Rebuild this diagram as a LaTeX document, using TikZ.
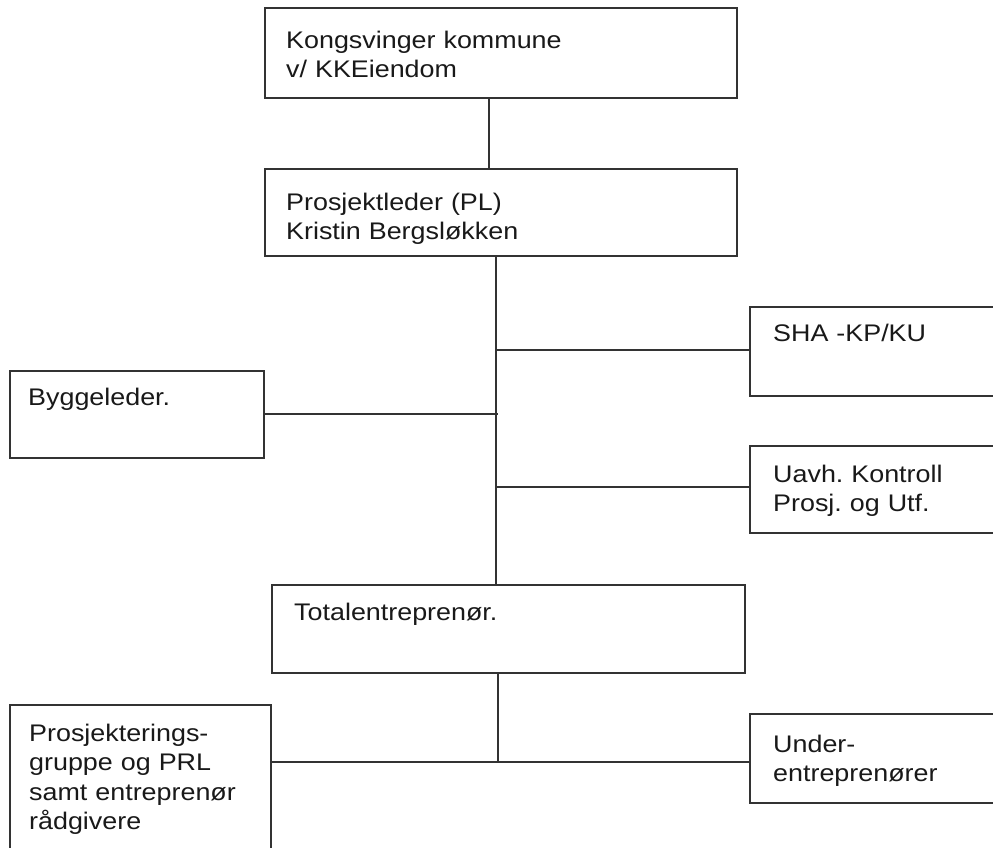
\documentclass[tikz,border=0pt]{standalone}
\usepackage{fontspec}
\setmainfont[FakeStretch=1.12]{Liberation Sans}
\begin{document}
\frenchspacing
\begin{tikzpicture}[x=1pt,y=-1pt,
  box/.style={draw=black!80, line width=2pt, rectangle, inner sep=0pt},
  txt/.style={anchor=base west, inner sep=0pt, align=left, text width=320pt,
    font=\fontsize{24}{29.5}\selectfont, text=black!90},
  conn/.style={draw=black!80, line width=1.8pt}]
\useasboundingbox (0,0) rectangle (993,847);
\fill[white] (0,0) rectangle (993,847);
% boxes
\node[box, minimum width=472pt, minimum height=90pt] (kk) at (501,53) {};
\node[box, minimum width=472pt, minimum height=87pt] (pl) at (501,212.5) {};
\node[box, minimum width=260pt, minimum height=89pt] (sha) at (880,351.5) {};
\node[box, minimum width=254pt, minimum height=87pt] (bygg) at (137,414.5) {};
\node[box, minimum width=260pt, minimum height=87pt] (uavh) at (880,489.5) {};
\node[box, minimum width=473pt, minimum height=88pt] (total) at (508.5,629) {};
\node[box, minimum width=261pt, minimum height=165pt] (prosj) at (140.5,787.5) {};
\node[box, minimum width=260pt, minimum height=89pt] (under) at (880,758.5) {};
% texts
\node[txt] (kkt) at (286,48) {Kongsvinger kommune\\v/ KKEiendom};
\node[txt] (plt) at (286,210) {Prosjektleder (PL)\\Kristin Bergsløkken};
\node[txt] (shat) at (773,341) {SHA -KP/KU};
\node[txt] (byggt) at (28,405) {Byggeleder.};
\node[txt] (uavht) at (773,482) {Uavh. Kontroll\\Prosj. og Utf.};
\node[txt] (totalt) at (294,620) {Totalentreprenør.};
\node[txt] (prosjt) at (29,741) {Prosjekterings-\\gruppe og PRL\\samt entreprenør\\rådgivere};
\node[txt] (undert) at (773,752) {Under-\\entreprenører};
% junction coordinates
\coordinate (c1) at (489,0);
\coordinate (tx) at (496,0);
\coordinate (bx) at (498,0);
\coordinate (r1) at (496,350);
\coordinate (r2) at (498,414);
\coordinate (r3) at (496,487);
\coordinate (j) at (498,762);
% connectors
\draw[conn] (kk.south -| c1) -- (pl.north -| c1);
\draw[conn] (pl.south -| tx) -- (total.north -| tx);
\draw[conn] (r1) -- (sha.west |- r1);
\draw[conn] (bygg.east |- r2) -- (r2);
\draw[conn] (r3) -- (uavh.west |- r3);
\draw[conn] (total.south -| bx) -- (j);
\draw[conn] (prosj.east |- j) -- (under.west |- j);
\end{tikzpicture}
\end{document}
